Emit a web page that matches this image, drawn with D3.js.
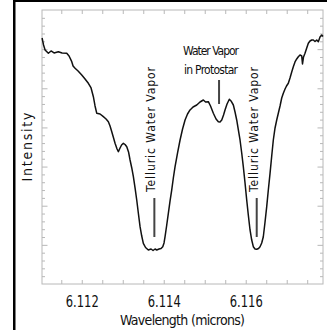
<!DOCTYPE html>
<html>
<head>
<meta charset="utf-8">
<script src="https://cdn.jsdelivr.net/npm/d3@7"></script>
<style>
  body { margin: 0; background: #fff; }
  svg { display: block; }
  text { font-family: "Liberation Sans Narrow", "Arial Narrow", "DejaVu Sans Condensed", sans-serif; fill: #111; }
</style>
</head>
<body>
<div id="graph"></div>
<script>
// spectrum (wavelength in microns, intensity in arbitrary units)
var wavelength = [
  6.111032, 6.111068, 6.111105, 6.111185, 6.111251, 6.111324, 6.111429, 6.111520, 6.111634, 6.111690,
  6.111756, 6.111788, 6.111837, 6.111910, 6.112000, 6.112080, 6.112161, 6.112227, 6.112283, 6.112324,
  6.112366, 6.112446, 6.112527, 6.112593, 6.112649, 6.112690, 6.112732, 6.112776, 6.112812, 6.112861,
  6.112893, 6.112934, 6.112971, 6.113015, 6.113056, 6.113098, 6.113141, 6.113178, 6.113220, 6.113259,
  6.113300, 6.113341, 6.113380, 6.113422, 6.113463, 6.113502, 6.113556, 6.113624, 6.113690, 6.113739,
  6.113788, 6.113829, 6.113885, 6.113934, 6.113976, 6.114007, 6.114032, 6.114073, 6.114112, 6.114154,
  6.114195, 6.114234, 6.114276, 6.114337, 6.114398, 6.114459, 6.114520, 6.114580, 6.114641, 6.114715,
  6.114805, 6.114885, 6.114966, 6.115020, 6.115088, 6.115141, 6.115210, 6.115276, 6.115332, 6.115373,
  6.115415, 6.115459, 6.115495, 6.115544, 6.115600, 6.115641, 6.115698, 6.115739, 6.115780, 6.115820,
  6.115861, 6.115902, 6.115941, 6.115983, 6.116024, 6.116063, 6.116105, 6.116146, 6.116185, 6.116227,
  6.116268, 6.116312, 6.116349, 6.116390, 6.116429, 6.116471, 6.116512, 6.116551, 6.116593, 6.116634,
  6.116673, 6.116715, 6.116756, 6.116795, 6.116837, 6.116878, 6.116917, 6.116959, 6.116995, 6.117039,
  6.117080, 6.117122, 6.117161, 6.117202, 6.117244, 6.117283, 6.117324, 6.117366, 6.117385, 6.117410,
  6.117446, 6.117488, 6.117527, 6.117568, 6.117610, 6.117649, 6.117690, 6.117732, 6.117771, 6.117812,
  6.117854, 6.117885
];
var intensity = [
  6.285, 6.106, 5.980, 5.894, 5.953, 5.902, 5.935, 5.902, 5.894, 5.825,
  5.680, 5.570, 5.511, 5.442, 5.340, 5.238, 5.128, 5.008, 4.785, 4.548,
  4.361, 4.343, 4.274, 4.216, 4.147, 4.037, 3.891, 3.730, 3.595, 3.449,
  3.380, 3.475, 3.551, 3.595, 3.564, 3.508, 3.373, 3.168, 2.964, 2.741,
  2.453, 2.146, 1.814, 1.464, 1.226, 1.040, 0.933, 0.869, 0.894, 0.856,
  0.894, 0.869, 0.894, 0.907, 0.953, 1.048, 1.208, 1.507, 1.806, 2.121,
  2.402, 2.708, 2.997, 3.347, 3.679, 3.960, 4.190, 4.343, 4.446, 4.522,
  4.573, 4.650, 4.701, 4.650, 4.658, 4.548, 4.361, 4.216, 4.147, 4.139,
  4.190, 4.318, 4.446, 4.599, 4.719, 4.676, 4.573, 4.394, 4.190, 3.935,
  3.679, 3.347, 2.997, 2.580, 2.146, 1.763, 1.380, 1.124, 0.953, 0.894,
  0.887, 0.907, 0.953, 1.048, 1.208, 1.584, 1.975, 2.402, 2.828, 3.270,
  3.679, 3.986, 4.190, 4.361, 4.548, 4.752, 4.872, 4.982, 5.059, 5.128,
  5.263, 5.416, 5.552, 5.672, 5.749, 5.807, 5.851, 5.825, 5.621, 5.800,
  5.894, 6.030, 6.150, 6.208, 6.234, 6.234, 6.196, 6.234, 6.191, 6.311,
  6.362, 6.323
];

// axes
var xLabels = [6.112, 6.114, 6.116];
var xMinor = [6.1115, 6.112, 6.1125, 6.113, 6.1135, 6.114, 6.1145, 6.115, 6.1155, 6.116, 6.1165, 6.117, 6.1175];
var yMajor = [1, 2, 3, 4, 5, 6];
var yMinor = [0.2, 0.4, 0.6, 0.8, 1.2, 1.4, 1.6, 1.8, 2.2, 2.4, 2.6, 2.8, 3.2, 3.4, 3.6, 3.8,
              4.2, 4.4, 4.6, 4.8, 5.2, 5.4, 5.6, 5.8, 6.2, 6.4, 6.6, 6.8];

// annotations: [wavelength, top intensity, bottom intensity]
var telluricLines = [[6.113771, 2.197, 1.201], [6.116268, 2.197, 1.201]];
var protostarLine = [6.115349, 5.212, 4.599];
var protostarLabel = ['Water Vapor', 'in Protostar'];

var width = 327, height = 330;
var margin = {left: 42, right: 4, top: 10, bottom: 46};

var x = d3.scaleLinear()
    .domain([6.11103, 6.117885])
    .range([margin.left, width - margin.right]);
var y = d3.scaleLinear()
    .domain([0, 7])
    .range([height - margin.bottom, margin.top]);

var svg = d3.select('#graph').append('svg')
    .attr('width', width)
    .attr('height', height);

// black border of the cropped figure (top and left only)
svg.append('rect').attr('x', 13).attr('y', 0).attr('width', 2.5).attr('height', height).attr('fill', '#000');
svg.append('rect').attr('x', 13).attr('y', 0).attr('width', width - 13).attr('height', 2).attr('fill', '#000');

var grey = '#b8b8b8';

function tickAxis(axis, tr) {
    let g = svg.append('g').attr('transform', tr).call(axis);
    g.select('.domain').remove();
    g.selectAll('line').attr('stroke', grey);
    return g;
}

tickAxis(d3.axisBottom(x).tickValues(xMinor).tickSize(-4).tickFormat(''), 'translate(0,' + y(0) + ')');
tickAxis(d3.axisTop(x).tickValues(xMinor).tickSize(-4).tickFormat(''), 'translate(0,' + y(7) + ')');
tickAxis(d3.axisLeft(y).tickValues(yMinor).tickSize(-3).tickFormat(''), 'translate(' + x.range()[0] + ',0)');
tickAxis(d3.axisLeft(y).tickValues(yMajor).tickSize(-5.5).tickFormat(''), 'translate(' + x.range()[0] + ',0)');
tickAxis(d3.axisRight(y).tickValues(yMinor).tickSize(-3).tickFormat(''), 'translate(' + x.range()[1] + ',0)');
tickAxis(d3.axisRight(y).tickValues(yMajor).tickSize(-5.5).tickFormat(''), 'translate(' + x.range()[1] + ',0)');

svg.append('rect')
    .attr('x', x.range()[0])
    .attr('y', y(7))
    .attr('width', x.range()[1] - x.range()[0])
    .attr('height', y(0) - y(7))
    .attr('fill', 'none')
    .attr('stroke', grey)
    .attr('stroke-width', 1);

// tick labels
let labels = svg.append('g')
    .attr('transform', 'translate(0,' + y(0) + ')')
    .call(d3.axisBottom(x).tickValues(xLabels).tickSize(0).tickPadding(12).tickFormat(d3.format('.3f')));
labels.select('.domain').remove();
labels.selectAll('text')
    .attr('font-size', 15)
    .attr('font-family', null)
    .attr('textLength', 33)
    .attr('lengthAdjust', 'spacingAndGlyphs')
    .attr('fill', '#111');

svg.append('text')
    .attr('x', (x.range()[0] + x.range()[1]) / 2)
    .attr('y', 325)
    .attr('text-anchor', 'middle')
    .attr('font-size', 14)
    .attr('textLength', 125)
    .attr('lengthAdjust', 'spacing')
    .text('Wavelength (microns)');

svg.append('text')
    .attr('transform', 'translate(32,' + (y(0) + y(7)) / 2 + ') rotate(-90)')
    .attr('text-anchor', 'middle')
    .attr('font-size', 14)
    .attr('textLength', 69)
    .attr('lengthAdjust', 'spacing')
    .text('Intensity');

// spectrum
let line = d3.line()
    .x(function(d, i){ return x(wavelength[i]); })
    .y(function(d){ return y(d); });

svg.append('path')
    .attr('d', line(intensity))
    .attr('fill', 'none')
    .attr('stroke', '#111')
    .attr('stroke-width', 1.5)
    .attr('stroke-linejoin', 'round');

// annotations
svg.selectAll('.tell-line').data(telluricLines).enter().append('line')
    .attr('class', 'tell-line')
    .attr('x1', function(d){ return x(d[0]); })
    .attr('x2', function(d){ return x(d[0]); })
    .attr('y1', function(d){ return y(d[1]); })
    .attr('y2', function(d){ return y(d[2]); })
    .attr('stroke', '#444')
    .attr('stroke-width', 2);

svg.selectAll('.tell-text').data(telluricLines).enter().append('text')
    .attr('class', 'tell-text')
    .attr('transform', function(d){ return 'translate(' + (x(d[0]) + 1) + ',' + (y(d[1]) - 6) + ') rotate(-90)'; })
    .attr('font-size', 12)
    .attr('textLength', 125)
    .attr('lengthAdjust', 'spacing')
    .text('Telluric Water Vapor');

svg.append('line')
    .attr('x1', x(protostarLine[0]))
    .attr('x2', x(protostarLine[0]))
    .attr('y1', y(protostarLine[1]))
    .attr('y2', y(protostarLine[2]))
    .attr('stroke', '#444')
    .attr('stroke-width', 2);

svg.selectAll('.proto-text').data(protostarLabel).enter().append('text')
    .attr('class', 'proto-text')
    .attr('x', x(protostarLine[0]) - 8)
    .attr('y', function(d, i){ return 55 + i * 19; })
    .attr('text-anchor', 'middle')
    .attr('font-size', 12)
    .attr('textLength', function(d, i){ return i == 0 ? 56 : 54; })
    .attr('lengthAdjust', 'spacing')
    .text(function(d){ return d; });
</script>
</body>
</html>
